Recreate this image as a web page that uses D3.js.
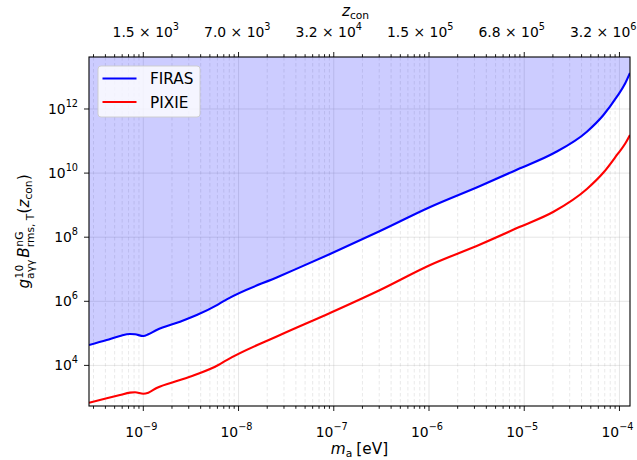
<!DOCTYPE html>
<html>
<head>
<meta charset="utf-8">
<script src="https://cdn.jsdelivr.net/npm/d3@7"></script>
<style>
  body { margin: 0; background: #fff; }
  svg { display: block; font-family: "DejaVu Sans", sans-serif; }
</style>
</head>
<body>
<svg id="chart" width="637" height="460"></svg>
<script>
// Axion mass grid [eV]
const massEV = [2.69e-10, 4.13e-10, 5.69e-10, 7.24e-10, 8.18e-10, 1.0e-9, 1.13e-9, 1.38e-9,
  2.43e-9, 3.64e-9, 6.14e-9, 7.52e-9, 2.73e-8, 9.14e-8, 3.06e-7, 1.03e-6, 3.44e-6, 9.03e-6,
  2.03e-5, 4.55e-5, 6.79e-5, 9.40e-5, 1.15e-4, 1.29e-4];
// g^10 * B_rms bound, FIRAS
const firas = [4.34e4, 6.21e4, 8.26e4, 9.55e4, 9.33e4, 8.26e4, 9.33e4, 1.27e5,
  2.31e5, 3.74e5, 8.05e5, 1.15e6, 6.15e6, 2.99e7, 1.56e8, 8.75e8, 3.96e9, 1.41e10,
  4.15e10, 1.96e11, 6.50e11, 2.42e12, 6.34e12, 1.33e13];
// same bound, PIXIE forecast
const pixie = [6.85e2, 9.42e2, 1.19e3, 1.41e3, 1.45e3, 1.31e3, 1.41e3, 1.97e3,
  3.50e3, 5.27e3, 1.03e4, 1.47e4, 8.89e4, 4.32e5, 2.25e6, 1.36e7, 5.92e7, 2.11e8,
  6.21e8, 3.19e9, 1.04e10, 3.67e10, 8.39e10, 1.55e11];

const seriesNames = ["FIRAS", "PIXIE"];
const seriesColors = ["#0000ff", "#ff0000"];

// Bottom axis ticks (m_a) and the matching conversion redshift on top
const massTicks = [1e-9, 1e-8, 1e-7, 1e-6, 1e-5, 1e-4];
const zconMantissa = ["1.5", "7.0", "3.2", "1.5", "6.8", "3.2"];
const zconExponent = [3, 3, 4, 5, 5, 6];
const yTicks = [1e4, 1e6, 1e8, 1e10, 1e12];
const yDomain = [541, 4.19e13];

const svg = d3.select("#chart");
const W = 637, H = 460;
const margin = { left: 89, right: 7, top: 57, bottom: 54 };
const iw = W - margin.left - margin.right;
const ih = H - margin.top - margin.bottom;
const FS = 13.9;   // tick labels
const LFS = 15.3;  // axis titles and legend

const x = d3.scaleLog().domain([massEV[0], massEV[massEV.length - 1]]).range([0, iw]);
const y = d3.scaleLog().domain(yDomain).range([ih, 0]);

const g = svg.append("g").attr("transform", `translate(${margin.left},${margin.top})`);

// minor ticks of the mass axis
const minorTicks = [];
for (let e = -10; e <= -4; e++) {
  for (let k = 2; k <= 9; k++) {
    const v = k * Math.pow(10, e);
    if (v >= x.domain()[0] && v <= x.domain()[1]) minorTicks.push(v);
  }
}

// grid
const grid = g.append("g");
grid.selectAll(".vminor").data(minorTicks).join("line")
  .attr("x1", d => x(d)).attr("x2", d => x(d)).attr("y1", 0).attr("y2", ih)
  .attr("stroke", "#b0b0b0").attr("stroke-opacity", 0.35).attr("stroke-width", 0.8)
  .attr("stroke-dasharray", "3.5,2.5");
grid.selectAll(".vmajor").data(massTicks).join("line")
  .attr("x1", d => x(d)).attr("x2", d => x(d)).attr("y1", 0).attr("y2", ih)
  .attr("stroke", "#b0b0b0").attr("stroke-opacity", 0.4).attr("stroke-width", 0.8);
grid.selectAll(".hmajor").data(yTicks).join("line")
  .attr("x1", 0).attr("x2", iw).attr("y1", d => y(d)).attr("y2", d => y(d))
  .attr("stroke", "#b0b0b0").attr("stroke-opacity", 0.4).attr("stroke-width", 0.8);

// clip to plotting area
svg.append("defs").append("clipPath").attr("id", "plotClip")
  .append("rect").attr("width", iw).attr("height", ih);
const plot = g.append("g").attr("clip-path", "url(#plotClip)");

const pts = (vals) => massEV.map((m, i) => [m, vals[i]]);

// excluded region above the FIRAS bound
const area = d3.area().x(d => x(d[0])).y0(0).y1(d => y(d[1])).curve(d3.curveMonotoneX);
plot.append("path").datum(pts(firas)).attr("d", area).attr("fill", "#0000ff").attr("fill-opacity", 0.2);

const line = d3.line().x(d => x(d[0])).y(d => y(d[1])).curve(d3.curveMonotoneX);
[firas, pixie].forEach((vals, i) => {
  plot.append("path").datum(pts(vals)).attr("d", line)
    .attr("fill", "none").attr("stroke", seriesColors[i]).attr("stroke-width", 2.1)
    .attr("stroke-linejoin", "round");
});

// small mathtext-like layout: atoms of {t, it, sup, sub, supIt, subIt}
function mathText(parent, atoms, fs) {
  const grp = parent.append("g");
  let cx = 0;
  const piece = (t, px, py, size, it) => {
    const el = grp.append("text").attr("x", px).attr("y", py)
      .style("font-size", size + "px").style("font-style", it ? "italic" : "normal")
      .attr("fill", "#000").text(t);
    return el.node().getComputedTextLength();
  };
  atoms.forEach(a => {
    cx += a.t ? piece(a.t, cx, 0, fs, a.it) : 0;
    let w = 0;
    if (a.sup) w = Math.max(w, piece(a.sup, cx + (a.it ? 0.5 : 0), -fs * (a.supShift || 0.42), fs * 0.7, a.supIt));
    if (a.sub) w = Math.max(w, piece(a.sub, cx, fs * (a.subShift || 0.22), fs * 0.7, a.subIt));
    cx += w + (a.gap || 0);
  });
  return { grp, width: cx };
}

// frame
g.append("rect").attr("width", iw).attr("height", ih)
  .attr("fill", "none").attr("stroke", "#000").attr("stroke-width", 1.1);

// tick marks, bottom and top
const tickG = g.append("g").attr("stroke", "#000").attr("stroke-width", 0.9);
[[ih, 1], [0, -1]].forEach(([y0, dir]) => {
  tickG.selectAll(null).data(massTicks).join("line")
    .attr("x1", d => x(d)).attr("x2", d => x(d)).attr("y1", y0).attr("y2", y0 + dir * 5);
  tickG.selectAll(null).data(minorTicks).join("line")
    .attr("x1", d => x(d)).attr("x2", d => x(d)).attr("y1", y0).attr("y2", y0 + dir * 2.8);
});
tickG.selectAll(null).data(yTicks).join("line")
  .attr("x1", 0).attr("x2", -5).attr("y1", d => y(d)).attr("y2", d => y(d));

// bottom tick labels
massTicks.forEach(m => {
  const e = Math.round(Math.log10(m));
  const { grp, width } = mathText(g, [{ t: "10", sup: "\u2212" + Math.abs(e), supShift: 0.5 }], FS);
  grp.attr("transform", `translate(${x(m) - width / 2 - 2},${ih + 31})`);
});

// top tick labels: conversion redshift, nudged slightly inward
massTicks.forEach((m, i) => {
  const { grp, width } = mathText(g, [
    { t: zconMantissa[i] + " \u00d7 10", sup: String(zconExponent[i]), supShift: 0.5 }
  ], FS);
  grp.attr("transform", `translate(${x(m) - width / 2 + 2.5 - 3.75 * i},${-20})`);
});

// left tick labels
yTicks.forEach(v => {
  const e = Math.round(Math.log10(v));
  const { grp, width } = mathText(g, [{ t: "10", sup: String(e), supShift: 0.5 }], FS);
  grp.attr("transform", `translate(${-11 - width},${y(v) + 5})`);
});

// axis titles
{
  const { grp, width } = mathText(svg, [{ t: "m", it: true, sub: "a", gap: 4 }, { t: "[eV]" }], LFS);
  grp.attr("transform", `translate(${margin.left + iw / 2 - width / 2},454)`);
}
{
  const { grp, width } = mathText(svg, [{ t: "z", it: true, sub: "con" }], LFS);
  grp.attr("transform", `translate(${margin.left + iw / 2 - width / 2 - 4},16)`);
}
{
  const { grp, width } = mathText(svg, [
    { t: "g", it: true, sup: "10", sub: "a\u03b3\u03b3", subShift: 0.3, gap: 2 },
    { t: "B", it: true, sup: "nG", sub: "rms, T", subShift: 0.3 },
    { t: "(" },
    { t: "z", it: true, sub: "con" },
    { t: ")" }
  ], LFS);
  grp.attr("transform", `translate(29,${margin.top + ih / 2 + width / 2}) rotate(-90)`);
}

// legend
const lg = g.append("g").attr("transform", "translate(9,9)");
lg.append("rect").attr("width", 102).attr("height", 51).attr("rx", 3)
  .attr("fill", "#fff").attr("fill-opacity", 0.8).attr("stroke", "#cccccc").attr("stroke-width", 0.9);
seriesNames.forEach((name, i) => {
  const ly = 12.5 + i * 23.5;
  lg.append("line").attr("x1", 4.5).attr("x2", 38.5).attr("y1", ly).attr("y2", ly)
    .attr("stroke", seriesColors[i]).attr("stroke-width", 2.1);
  lg.append("text").attr("x", 52).attr("y", ly + 5.5).style("font-size", LFS + "px").text(name);
});
</script>
</body>
</html>
